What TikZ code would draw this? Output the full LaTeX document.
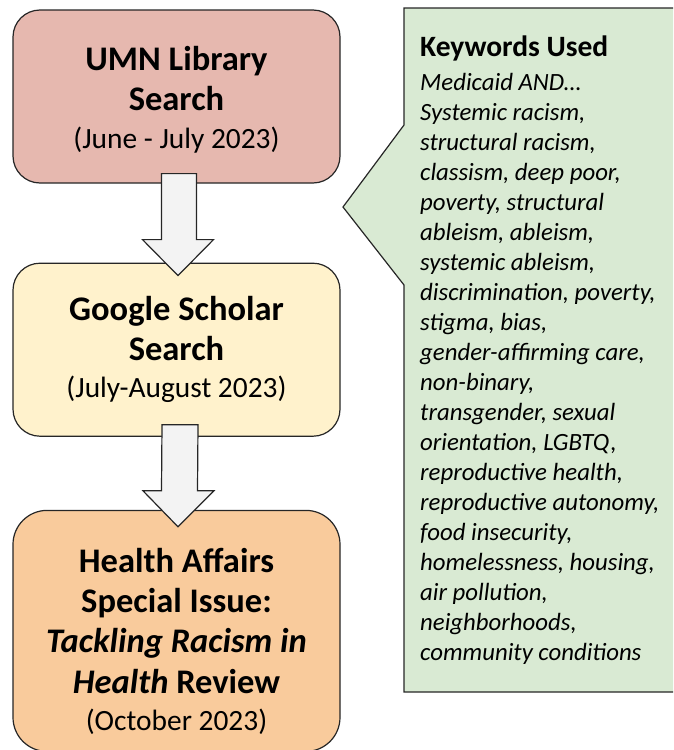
\documentclass[tikz,border=0pt]{standalone}
\usepackage{fontspec}
\setmainfont{Carlito}
\usetikzlibrary{positioning,calc}

\definecolor{boxline}{HTML}{262626}
\definecolor{umnpink}{HTML}{E6B8AF}
\definecolor{scholaryellow}{HTML}{FFF2CC}
\definecolor{affairsorange}{HTML}{F9CB9C}
\definecolor{keygreen}{HTML}{D9EAD3}
\definecolor{arrowgray}{HTML}{F3F3F3}

\newcommand{\datefont}{\mdseries\fontsize{29.4}{37}\selectfont}

\tikzset{
  stagebox/.style={draw=boxline, line width=1.2pt, rounded corners=27pt,
    minimum width=327pt, minimum height=173pt, inner sep=0pt, align=center,
    font=\bfseries\fontsize{34.5}{40}\selectfont},
  stagetext/.style={inner sep=0pt, align=center, font=\bfseries\fontsize{34.5}{40}\selectfont},
  blockarrow/.style={draw=boxline, fill=arrowgray, line width=1.2pt, line join=miter},
  keycallout/.style={draw=boxline, fill=keygreen, line width=1.2pt, line join=miter},
  kwhead/.style={anchor=north west, inner sep=0pt, font=\bfseries\fontsize{29.5}{34}\selectfont},
  kwtext/.style={anchor=north west, inner sep=0pt, align=left, font=\itshape\fontsize{24.8}{30}\selectfont}
}

\begin{document}
\begin{tikzpicture}[x=1pt,y=-1pt]
  \path[use as bounding box] (0,0) rectangle (673,750);
  \clip (0,0) rectangle (673,750);

  % search stages
  \node[stagebox, fill=umnpink] (umn) at (176.5,96.5) {};
  \node[stagetext] (umntext) at ($(umn.center)+(0,3)$)
    {UMN Library\\Search\\[-2pt]{\datefont (June - July 2023)}};
  \node[stagebox, fill=scholaryellow, below=79pt of umn] (scholar)
    {Google Scholar\\Search\\[-3pt]{\datefont (July-August 2023)}};
  \node[stagebox, fill=affairsorange, minimum height=241pt, rounded corners=34pt,
    below=73pt of scholar] (affairs) {};
  \node[stagetext] (affairstext) at ($(affairs.center)+(0,11)$)
    {Health Affairs\\Special Issue:\\\textit{Tackling Racism in}\\[1pt]\textit{Health} Review\\[-3pt]{\datefont (October 2023)}};

  % block arrows between the stages
  \coordinate (arrA) at ($(umn.south)+(2.5,-10)$);
  \coordinate (tipA) at ($(scholar.north)+(1.5,13)$);
  \draw[blockarrow] ($(arrA)+(-17.5,0)$) -- ($(arrA)+(17.5,0)$) -- ($(tipA)+(18.5,-36)$)
    -- ($(tipA)+(35.5,-36)$) -- (tipA) -- ($(tipA)+(-35.5,-36)$) -- ($(tipA)+(-16.5,-36)$) -- cycle;
  \coordinate (arrB) at ($(scholar.south)+(3.5,-12)$);
  \coordinate (tipB) at ($(affairs.north)+(1.5,17)$);
  \draw[blockarrow] ($(arrB)+(-18,0)$) -- ($(arrB)+(18,0)$) -- ($(tipB)+(19.5,-36)$)
    -- ($(tipB)+(36,-36)$) -- (tipB) -- ($(tipB)+(-35,-36)$) -- ($(tipB)+(-16.5,-36)$) -- cycle;

  % keyword callout
  \draw[keycallout] (404,8) -- (690,8) -- (690,692) -- (404,692) -- (404,285)
    -- (343,207) -- (404,125) -- cycle;
  \node[kwhead] (kwtitle) at (420,36) {Keywords Used};
  \node[kwtext] (kwlist) at (420,73)
    {Medicaid AND…\\
     Systemic racism,\\
     structural racism,\\
     classism, deep poor,\\
     poverty, structural\\
     ableism, ableism,\\
     systemic ableism,\\
     discrimination, poverty,\\
     stigma, bias,\\
     gender-affirming care,\\
     non-binary,\\
     transgender, sexual\\
     orientation, LGBTQ,\\
     reproductive health,\\
     reproductive autonomy,\\
     food insecurity,\\
     homelessness, housing,\\
     air pollution,\\
     neighborhoods,\\
     community conditions};
\end{tikzpicture}
\end{document}
